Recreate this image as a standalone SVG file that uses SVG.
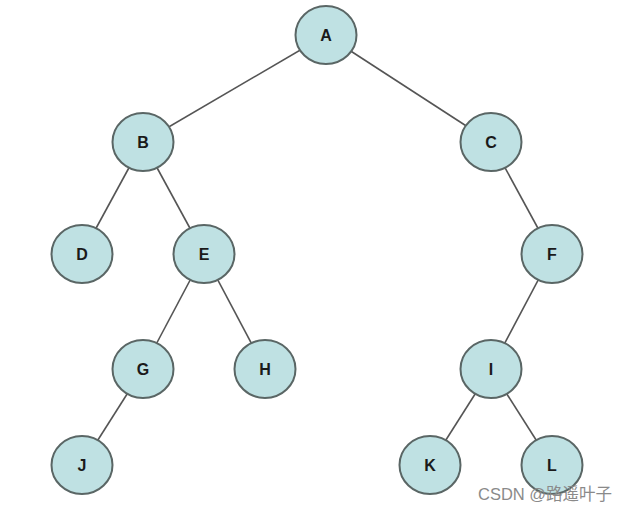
<svg xmlns="http://www.w3.org/2000/svg" width="630" height="512" viewBox="0 0 630 512">
<style>
.n ellipse{fill:#bfe1e3;stroke:#5a6665;stroke-width:2}
.n text{font-family:"Liberation Sans",Arial,sans-serif;font-weight:bold;font-size:16px;fill:#1a1a1a;text-anchor:middle;dominant-baseline:central}
.e line{stroke:#555;stroke-width:1.6}
.wm{font-family:"Liberation Sans","Noto Sans CJK SC",sans-serif;font-size:16.5px;fill:#8a8a8a}
</style>
<rect width="630" height="512" fill="#fff"/>
<g id="edges" class="e">
<line x1="326" y1="35" x2="143" y2="142"/>
<line x1="326" y1="35" x2="491" y2="142"/>
<line x1="143" y1="142" x2="82" y2="254"/>
<line x1="143" y1="142" x2="204" y2="254"/>
<line x1="491" y1="142" x2="552" y2="254"/>
<line x1="204" y1="254" x2="143" y2="369"/>
<line x1="204" y1="254" x2="265" y2="369"/>
<line x1="552" y1="254" x2="491" y2="369"/>
<line x1="143" y1="369" x2="82" y2="465"/>
<line x1="491" y1="369" x2="430" y2="465"/>
<line x1="491" y1="369" x2="552" y2="465"/>
</g>
<g id="A" class="n"><ellipse cx="326" cy="35" rx="30.5" ry="29"/><text x="326" y="35">A</text></g>
<g id="B" class="n"><ellipse cx="143" cy="142" rx="30.5" ry="29"/><text x="143" y="142">B</text></g>
<g id="C" class="n"><ellipse cx="491" cy="142" rx="30.5" ry="29"/><text x="491" y="142">C</text></g>
<g id="D" class="n"><ellipse cx="82" cy="254" rx="30.5" ry="29"/><text x="82" y="254">D</text></g>
<g id="E" class="n"><ellipse cx="204" cy="254" rx="30.5" ry="29"/><text x="204" y="254">E</text></g>
<g id="F" class="n"><ellipse cx="552" cy="254" rx="30.5" ry="29"/><text x="552" y="254">F</text></g>
<g id="G" class="n"><ellipse cx="143" cy="369" rx="30.5" ry="29"/><text x="143" y="369">G</text></g>
<g id="H" class="n"><ellipse cx="265" cy="369" rx="30.5" ry="29"/><text x="265" y="369">H</text></g>
<g id="I" class="n"><ellipse cx="491" cy="369" rx="30.5" ry="29"/><text x="491" y="369">I</text></g>
<g id="J" class="n"><ellipse cx="82" cy="465" rx="30.5" ry="29"/><text x="82" y="465">J</text></g>
<g id="K" class="n"><ellipse cx="430" cy="465" rx="30.5" ry="29"/><text x="430" y="465">K</text></g>
<g id="L" class="n"><ellipse cx="552" cy="465" rx="30.5" ry="29"/><text x="552" y="465">L</text></g>
<text class="wm" x="478" y="500">CSDN @路遥叶子</text>
</svg>
